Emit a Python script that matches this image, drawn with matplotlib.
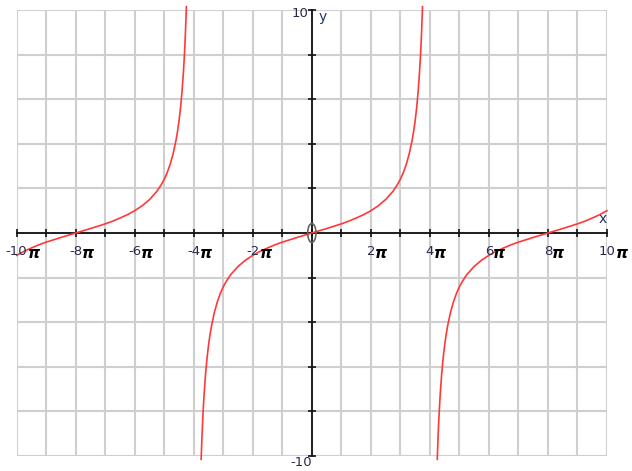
import matplotlib.pyplot as plt
from matplotlib.patches import Ellipse

# --- curve points (three branches) ---
x_left = [-10, -9.75, -9.5, -9.25, -9, -8.5, -8, -7.5, -7, -6.75, -6.5, -6.25, -6,
          -5.75, -5.5, -5.25, -5.1, -5, -4.9, -4.8, -4.7, -4.6, -4.55, -4.5, -4.45,
          -4.4, -4.35, -4.32, -4.3, -4.28, -4.25]
y_left = [-1.00, -0.82, -0.67, -0.53, -0.41, -0.20, 0, 0.20, 0.41, 0.53, 0.67, 0.82, 1.00,
          1.22, 1.50, 1.87, 2.17, 2.41, 2.71, 3.08, 3.55, 4.17, 4.56, 5.03, 5.60,
          6.31, 7.23, 7.92, 8.45, 9.06, 10.15]

x_mid = [-3.75, -3.72, -3.7, -3.68, -3.65, -3.6, -3.55, -3.5, -3.45, -3.4, -3.3, -3.2,
         -3.1, -3, -2.9, -2.75, -2.5, -2.25, -2, -1.75, -1.5, -1.25, -1, -0.5, 0,
         0.5, 1, 1.25, 1.5, 1.75, 2, 2.25, 2.5, 2.75, 2.9, 3, 3.1, 3.2, 3.3, 3.4,
         3.45, 3.5, 3.55, 3.6, 3.65, 3.68, 3.7, 3.72, 3.75]
y_mid = [-10.15, -9.06, -8.45, -7.92, -7.23, -6.31, -5.60, -5.03, -4.56, -4.17, -3.55,
         -3.08, -2.71, -2.41, -2.17, -1.87, -1.50, -1.22, -1.00, -0.82, -0.67, -0.53,
         -0.41, -0.20, 0, 0.20, 0.41, 0.53, 0.67, 0.82, 1.00, 1.22, 1.50, 1.87, 2.17,
         2.41, 2.71, 3.08, 3.55, 4.17, 4.56, 5.03, 5.60, 6.31, 7.23, 7.92, 8.45, 9.06,
         10.15]

x_right = [4.25, 4.28, 4.3, 4.32, 4.35, 4.4, 4.45, 4.5, 4.55, 4.6, 4.7, 4.8, 4.9, 5,
           5.1, 5.25, 5.5, 5.75, 6, 6.25, 6.5, 6.75, 7, 7.5, 8, 8.5, 9, 9.25, 9.5,
           9.75, 10]
y_right = [-10.15, -9.06, -8.45, -7.92, -7.23, -6.31, -5.60, -5.03, -4.56, -4.17, -3.55,
           -3.08, -2.71, -2.41, -2.17, -1.87, -1.50, -1.22, -1.00, -0.82, -0.67, -0.53,
           -0.41, -0.20, 0, 0.20, 0.41, 0.53, 0.67, 0.82, 1.00]

x_labels = [-10, -8, -6, -4, -2, 2, 4, 6, 8, 10]

num_color = '#2a2a48'

fig = plt.figure(figsize=(6.32, 4.71), dpi=100)
ax = fig.add_axes([0.0264, 0.0318, 0.934, 0.947])

ax.set_xlim(-10, 10)
ax.set_ylim(-10, 10)

# grid: every 1 on x, every 2 on y
for gx in range(-10, 11):
    ax.axvline(gx, color='#cfcfcf', lw=1.5, zorder=0)
for gy in range(-10, 11, 2):
    ax.axhline(gy, color='#cfcfcf', lw=1.5, zorder=0)

for sp in ['top', 'right']:
    ax.spines[sp].set_visible(False)
ax.spines['left'].set_position('zero')
ax.spines['bottom'].set_position('zero')
ax.spines['left'].set_linewidth(1.3)
ax.spines['bottom'].set_linewidth(1.3)
ax.spines['left'].set_color('#111111')
ax.spines['bottom'].set_color('#111111')

ax.set_xticks(range(-10, 11))
ax.set_yticks(range(-10, 11, 2))
ax.set_xticklabels([])
ax.set_yticklabels([])
ax.tick_params(axis='both', direction='inout', length=6, width=1.2, color='#111111')

for xs, ys in [(x_left, y_left), (x_mid, y_mid), (x_right, y_right)]:
    ax.plot(xs, ys, color='#ff3838', lw=1.2, clip_on=False, zorder=3)

# x tick labels: number + pi
for v in x_labels:
    t = ax.annotate(str(v), xy=(v, 0), xytext=(0, -18), textcoords='offset pixels',
                    ha='center', va='center', fontsize=9.5, color=num_color)
    ax.annotate('π', xy=(1, 0.5), xycoords=t, xytext=(0, -2), textcoords='offset pixels',
                ha='left', va='center', fontsize=11, fontweight='bold',
                fontstyle='italic', color='black')

# axis end labels
ax.annotate('10', xy=(0, 10), xytext=(-3, -4), textcoords='offset pixels',
            ha='right', va='center', fontsize=9.5, color=num_color)
ax.annotate('-10', xy=(0, -10), xytext=(0, -6), textcoords='offset pixels',
            ha='right', va='center', fontsize=9.5, color=num_color)
ax.annotate('y', xy=(0, 10), xytext=(7, -7), textcoords='offset pixels',
            ha='left', va='center', fontsize=10, color='#223366')
ax.annotate('x', xy=(10, 0), xytext=(0, 14), textcoords='offset pixels',
            ha='right', va='center', fontsize=10, color='#223366')

# the small oval at the origin
ax.add_patch(Ellipse((0, 0), 0.28, 0.85, fill=False, edgecolor='#666666', lw=1.2, zorder=4))

fig.savefig('out.png', dpi=100)
